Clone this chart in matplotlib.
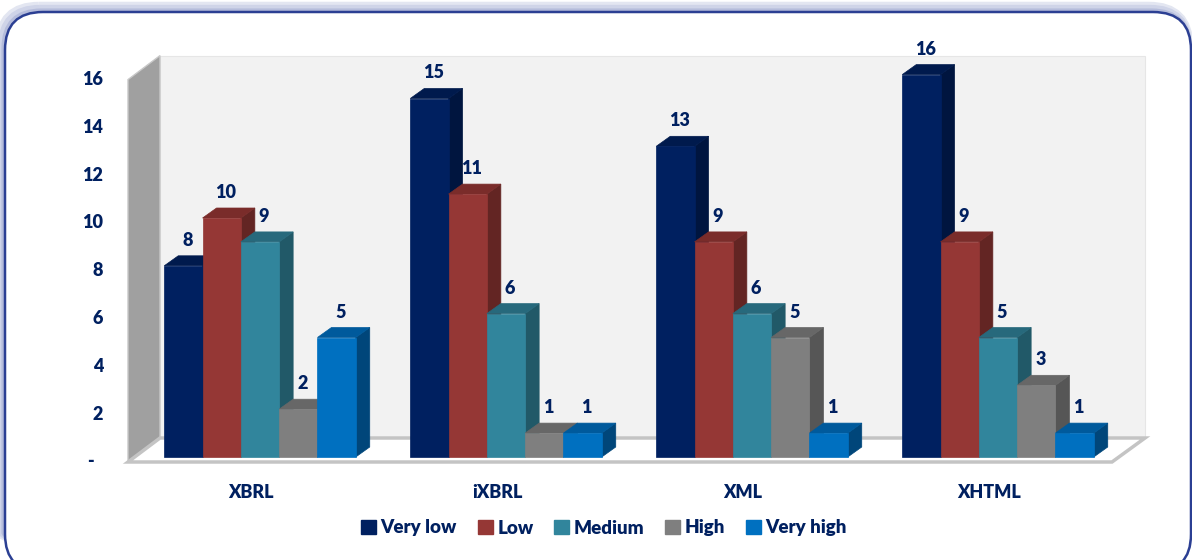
import matplotlib.pyplot as plt
from matplotlib.patches import Polygon, FancyBboxPatch, Patch

# data
categories = ["XBRL", "iXBRL", "XML", "XHTML"]
levels = ["Very low", "Low", "Medium", "High", "Very high"]
very_low = [8, 15, 13, 16]
low = [10, 11, 9, 9]
medium = [9, 6, 6, 5]
high = [2, 1, 5, 3]
very_high = [5, 1, 1, 1]
y_ticks = [0, 2, 4, 6, 8, 10, 12, 14, 16]
y_tick_labels = ["-", "2", "4", "6", "8", "10", "12", "14", "16"]

series = [very_low, low, medium, high, very_high]

# front / top / side shades for each level
front_colors = ["#002060", "#953735", "#31859C", "#7F7F7F", "#0070C0"]
top_colors = ["#001A4D", "#7A2C2A", "#27697C", "#676767", "#005A9C"]
side_colors = ["#00153F", "#632523", "#215968", "#565656", "#00467A"]
text_color = "#002060"
font = "Lato"
weight = "heavy"

W_PX, H_PX = 1192, 560
PX_X = 246.0   # pixels per category step
PX_Y = 23.9    # pixels per value unit
X0_PX = 260.0  # pixel x of first category centre
Y0_PX = 457.0  # pixel y of bar baseline (front plane)


def px_x(p):
    return p / PX_X


def px_y(p):
    return p / PX_Y


fig = plt.figure(figsize=(W_PX / 100, H_PX / 100), dpi=100)

# background frame in pixel coordinates
bg = fig.add_axes([0, 0, 1, 1])
bg.set_xlim(0, W_PX)
bg.set_ylim(H_PX, 0)
bg.axis("off")
for lw, col, off in [(9, "#e3e6f1", 4), (6, "#cfd4e8", 3), (3, "#b5bcdb", 1.5)]:
    bg.add_patch(FancyBboxPatch((5 - off, 12 - off), 1186, 560, boxstyle="round,pad=0,rounding_size=38",
                                fc="none", ec=col, lw=lw, clip_on=False))
bg.add_patch(FancyBboxPatch((5, 12), 1186, 560, boxstyle="round,pad=0,rounding_size=38",
                            fc="white", ec="#2B3F93", lw=1.8, clip_on=False))

# main chart axes, data coordinates: x = category index, y = value
ax = fig.add_axes([0, 0, 1, 1], zorder=2)
ax.patch.set_visible(False)
ax.axis("off")
ax.set_xlim(px_x(-X0_PX), px_x(W_PX - X0_PX))
ax.set_ylim(px_y(Y0_PX - H_PX), px_y(Y0_PX))

ymax = y_ticks[-1]
front_off = px_y(Y0_PX - 462)   # floor front plane
back_off = px_y(Y0_PX - 438)    # back wall plane
wall_xf = px_x(128 - X0_PX)
wall_xb = px_x(160 - X0_PX)
floor_xf = px_x(1112 - X0_PX)
floor_xb = px_x(1145 - X0_PX)

# back wall
ax.add_patch(Polygon([(wall_xb, back_off), (floor_xb, back_off), (floor_xb, ymax + back_off),
                      (wall_xb, ymax + back_off)], closed=True, fc="#F2F2F2", ec="#E6E6E6", lw=0.8))
# left wall
ax.add_patch(Polygon([(wall_xf, front_off), (wall_xf, ymax + front_off), (wall_xb, ymax + back_off),
                      (wall_xb, back_off)], closed=True, fc="#A0A0A0", ec="#C8C8C8", lw=1))
# floor
ax.add_patch(Polygon([(wall_xf, front_off), (floor_xf, front_off), (floor_xb, back_off),
                      (wall_xb, back_off)], closed=True, fc="white", ec="#C4C4C4", lw=2.5))

bar_w = px_x(38.3)
dx = px_x(14)
dy = px_y(10)
n = len(levels)

z = 3
for i, cat in enumerate(categories):
    for j in range(n):
        v = series[j][i]
        x0 = i + (j - n / 2) * bar_w
        x1 = x0 + bar_w
        ax.add_patch(Polygon([(x1, 0), (x1 + dx, dy), (x1 + dx, v + dy), (x1, v)], closed=True,
                             fc=side_colors[j], ec=side_colors[j], lw=0.5, zorder=z))
        ax.add_patch(Polygon([(x0, v), (x1, v), (x1 + dx, v + dy), (x0 + dx, v + dy)], closed=True,
                             fc=top_colors[j], ec=top_colors[j], lw=0.5, zorder=z))
        ax.bar(x0, v, width=bar_w, align="edge", color=front_colors[j], edgecolor=front_colors[j],
               lw=0.5, zorder=z)
        z += 1
        ax.text(x0 + bar_w / 2 + dx / 2 - px_x(3), v + dy + px_y(7), str(v), ha="center", va="bottom",
                fontsize=13, fontweight=weight, color=text_color, family=font, zorder=50)
    ax.text(i - px_x(9), px_y(Y0_PX - 492), cat, ha="center", va="center",
            fontsize=13, fontweight=weight, color=text_color, family=font)

# value axis labels
for t, lab in zip(y_ticks, y_tick_labels):
    xr = px_x(103 - X0_PX) if lab != "-" else px_x(94 - X0_PX)
    ax.text(xr, t + front_off, lab, ha="right", va="center", fontsize=13, fontweight=weight,
            color=text_color, family=font)

handles = [Patch(facecolor=c, edgecolor=c) for c in front_colors]
fig.legend(handles, levels, loc="center", bbox_to_anchor=(604 / W_PX, 1 - 528 / H_PX), ncol=5,
           frameon=False, handlelength=0.8, handleheight=0.8, handletextpad=0.25, columnspacing=1.1,
           prop={"family": font, "weight": weight, "size": 13.5}, labelcolor=text_color)

fig.savefig("out.png", dpi=100)
